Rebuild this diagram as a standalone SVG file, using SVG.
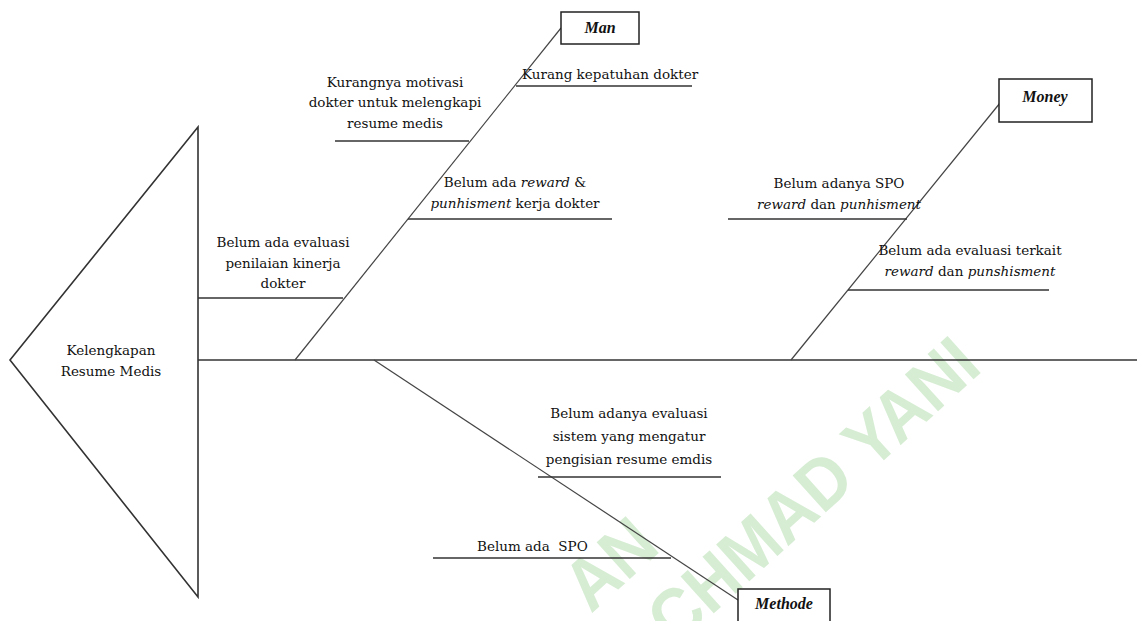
<svg xmlns="http://www.w3.org/2000/svg" width="1137" height="621" viewBox="0 0 1137 621">
<style>
.bg{fill:#ffffff}
.wm{font-family:"Liberation Sans",Arial,sans-serif;font-weight:bold;font-size:72px;fill:#d6edd3}
.main{fill:none;stroke:#333;stroke-width:1.6}
.bone{fill:none;stroke:#444;stroke-width:1.2}
.sub{fill:none;stroke:#333;stroke-width:1.5}
.box{fill:#fff;stroke:#222;stroke-width:1.5}
.t{font-family:"DejaVu Serif","Liberation Serif",serif;font-size:13.5px;fill:#111;text-anchor:middle}
.ts{font-family:"DejaVu Serif","Liberation Serif",serif;font-size:13.5px;fill:#111}
.i{font-style:italic}
.lbl{font-family:"Liberation Serif","Times New Roman",serif;font-size:16px;font-weight:bold;font-style:italic;fill:#111;text-anchor:middle}
</style>
<rect class="bg" x="0" y="0" width="1137" height="621"/>
<g id="watermark">
<text class="wm" transform="translate(662,550) rotate(-42) scale(0.92,1)" text-anchor="end">AN</text>
<text class="wm" transform="translate(984,370) rotate(-42) scale(0.92,1)" text-anchor="end">ACHMAD YANI</text>
</g>
<g id="connectors">
<path class="main" d="M198,127 L10,360 L198,597 Z"/>
<line class="main" x1="198" y1="360" x2="1137" y2="360"/>
<line class="bone" x1="295" y1="360" x2="561" y2="28"/>
<line class="bone" x1="791" y1="360" x2="1000" y2="103"/>
<line class="bone" x1="374" y1="360" x2="738" y2="600"/>
<line class="sub" x1="516" y1="86" x2="692" y2="86"/>
<line class="sub" x1="335" y1="141" x2="469" y2="141"/>
<line class="sub" x1="408" y1="219" x2="612" y2="219"/>
<line class="sub" x1="198" y1="298" x2="343" y2="298"/>
<line class="sub" x1="728" y1="219" x2="907" y2="219"/>
<line class="sub" x1="848" y1="290" x2="1049" y2="290"/>
<line class="sub" x1="538" y1="477" x2="721" y2="477"/>
<line class="sub" x1="433" y1="558" x2="671" y2="558"/>
</g>
<g id="head">
<text class="t" x="111" y="355">Kelengkapan</text>
<text class="t" x="111" y="376">Resume Medis</text>
</g>
<g id="man">
<rect class="box" x="561" y="12" width="78" height="32"/>
<text class="lbl" x="600" y="33">Man</text>
</g>
<g id="man-kepatuhan">
<text class="ts" x="522" y="79">Kurang kepatuhan dokter</text>
</g>
<g id="man-motivasi">
<text class="t" x="395" y="87">Kurangnya motivasi</text>
<text class="t" x="395" y="107">dokter untuk melengkapi</text>
<text class="t" x="395" y="128">resume medis</text>
</g>
<g id="man-reward">
<text class="t" x="515" y="187">Belum ada <tspan class="i">reward</tspan> &amp;</text>
<text class="t" x="515" y="208"><tspan class="i">punhisment</tspan> kerja dokter</text>
</g>
<g id="man-evaluasi">
<text class="t" x="283" y="247">Belum ada evaluasi</text>
<text class="t" x="283" y="268">penilaian kinerja</text>
<text class="t" x="283" y="288">dokter</text>
</g>
<g id="money">
<rect class="box" x="999" y="79" width="93" height="43"/>
<text class="lbl" x="1045" y="102">Money</text>
</g>
<g id="money-spo">
<text class="t" x="839" y="188">Belum adanya SPO</text>
<text class="t" x="839" y="209"><tspan class="i">reward</tspan> dan <tspan class="i">punhisment</tspan></text>
</g>
<g id="money-evaluasi">
<text class="t" x="970" y="255">Belum ada evaluasi terkait</text>
<text class="t" x="970" y="276"><tspan class="i">reward</tspan> dan <tspan class="i">punshisment</tspan></text>
</g>
<g id="methode">
<rect class="box" x="738" y="589" width="92" height="40"/>
<text class="lbl" x="784" y="609">Methode</text>
</g>
<g id="methode-evaluasi">
<text class="t" x="629" y="418">Belum adanya evaluasi</text>
<text class="t" x="629" y="441">sistem yang mengatur</text>
<text class="t" x="629" y="464">pengisian resume emdis</text>
</g>
<g id="methode-spo">
<text class="ts" x="477" y="551" xml:space="preserve">Belum ada  SPO</text>
</g>
</svg>
